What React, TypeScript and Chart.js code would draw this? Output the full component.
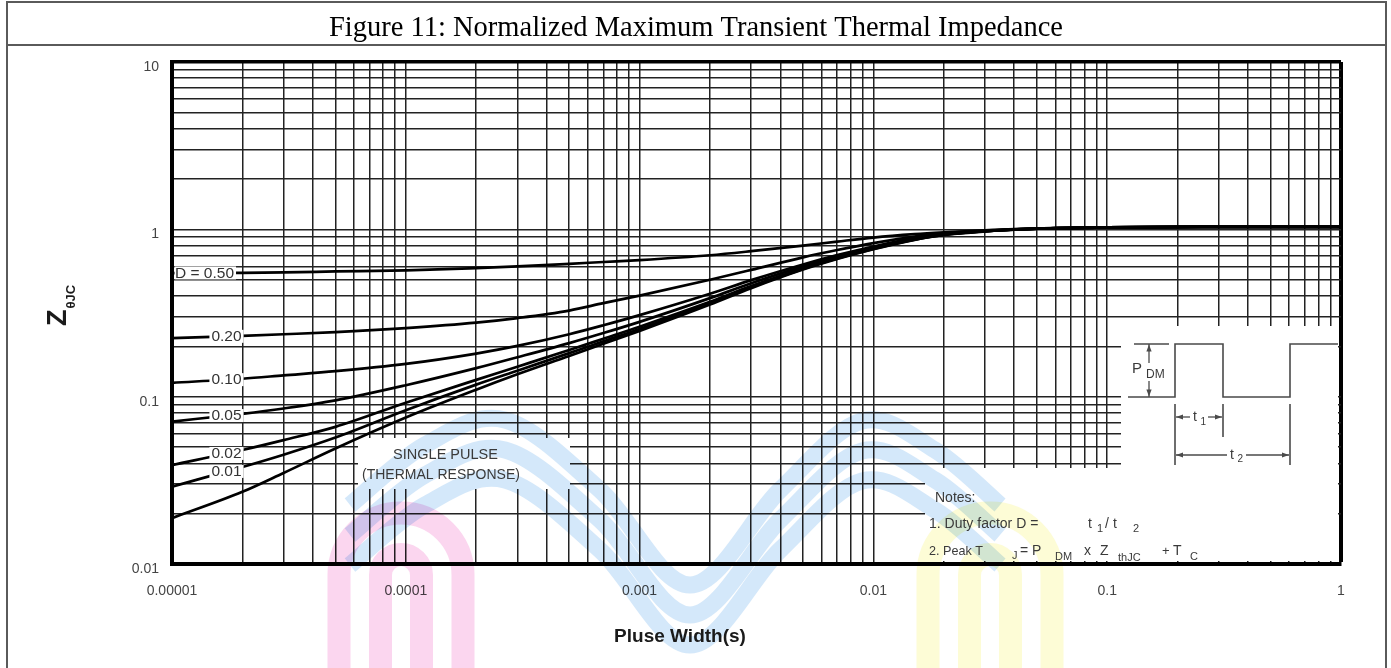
import { useEffect, useRef } from 'react';
import { Chart, registerables } from 'chart.js';

Chart.register(...registerables);

// Pulse width (s) sample points shared by every curve
const pulseWidths = [1e-5, 2e-5, 3e-5, 5e-5, 1e-4, 2e-4, 3e-4, 5e-4, 7e-4, 1e-3, 2e-3, 3e-3, 5e-3, 7e-3, 1e-2, 1.5e-2, 2e-2, 3e-2, 5e-2, 1e-1, 3e-1, 1];

// Normalized transient thermal impedance for each duty factor
const zDuty050 = [0.548, 0.55, 0.553, 0.56, 0.569, 0.587, 0.6, 0.622, 0.638, 0.655, 0.7, 0.74, 0.8, 0.845, 0.893, 0.935, 0.958, 0.985, 1.012, 1.028, 1.035, 1.035];
const zDuty020 = [0.224, 0.231, 0.236, 0.243, 0.257, 0.277, 0.295, 0.327, 0.362, 0.402, 0.5, 0.572, 0.68, 0.752, 0.828, 0.905, 0.948, 0.981, 1.011, 1.028, 1.035, 1.035];
const zDuty010 = [0.121, 0.128, 0.134, 0.142, 0.157, 0.181, 0.201, 0.236, 0.267, 0.307, 0.412, 0.497, 0.617, 0.701, 0.79, 0.886, 0.939, 0.978, 1.01, 1.028, 1.035, 1.035];
const zDuty005 = [0.071, 0.079, 0.085, 0.095, 0.117, 0.148, 0.172, 0.209, 0.24, 0.28, 0.388, 0.476, 0.601, 0.687, 0.779, 0.878, 0.934, 0.976, 1.009, 1.028, 1.035, 1.035];
const zDuty002 = [0.039, 0.048, 0.055, 0.066, 0.092, 0.126, 0.151, 0.19, 0.222, 0.262, 0.369, 0.458, 0.586, 0.674, 0.769, 0.871, 0.929, 0.974, 1.009, 1.028, 1.035, 1.035];
const zDuty001 = [0.029, 0.038, 0.045, 0.057, 0.083, 0.118, 0.143, 0.182, 0.214, 0.254, 0.362, 0.451, 0.58, 0.669, 0.764, 0.868, 0.927, 0.973, 1.008, 1.028, 1.035, 1.035];
const zSinglePulse = [0.0188, 0.027, 0.035, 0.049, 0.075, 0.11, 0.136, 0.175, 0.207, 0.247, 0.355, 0.445, 0.575, 0.665, 0.76, 0.865, 0.925, 0.972, 1.008, 1.028, 1.035, 1.035];

const seriesValues = [zDuty050, zDuty020, zDuty010, zDuty005, zDuty002, zDuty001, zSinglePulse];
const seriesNames = ['D = 0.50', '0.20', '0.10', '0.05', '0.02', '0.01', 'SINGLE PULSE'];

const xTickValues = [1e-5, 1e-4, 1e-3, 1e-2, 1e-1, 1];
const xTickLabels = ['0.00001', '0.0001', '0.001', '0.01', '0.1', '1'];
const yTickValues = [0.01, 0.1, 1, 10];
const yTickLabels = ['0.01', '0.1', '1', '10'];
const minorMultipliers = [1, 2, 3, 4, 5, 6, 7, 8, 9];

const figureTitle = 'Figure 11: Normalized Maximum Transient Thermal Impedance';
const xAxisTitle = 'Pluse Width(s)';
const singlePulseText = ['SINGLE PULSE', '(THERMAL RESPONSE)'];

const SANS = '"Liberation Sans", Arial, Helvetica, sans-serif';
const SERIF = '"Liberation Serif", "Times New Roman", serif';

// Every 1..9 step of each decade, ending on the last decade value
function logGridValues(decades: number[]): number[] {
  const out: number[] = [];
  decades.forEach((d, i) => {
    if (i === decades.length - 1) {
      out.push(d);
      return;
    }
    minorMultipliers.forEach((m) => out.push(Number((m * d).toPrecision(6))));
  });
  return out;
}

function decadeLabel(v: number, values: number[], labels: string[]): string {
  const i = values.findIndex((d) => Math.abs(Math.log10(v) - Math.log10(d)) < 1e-6);
  return i >= 0 ? labels[i] : '';
}

function sameValue(a: number, b: number) {
  return Math.abs(Math.log10(a) - Math.log10(b)) < 1e-6;
}

// Pixel y of a drawn curve at a pixel x (linear between its points)
function curveYAt(chart: any, di: number, px: number): number {
  const pts = chart.getDatasetMeta(di).data as any[];
  for (let i = 0; i < pts.length - 1; i++) {
    const a = pts[i];
    const b = pts[i + 1];
    if (px >= a.x && px <= b.x) {
      const t = (px - a.x) / (b.x - a.x);
      return a.y + t * (b.y - a.y);
    }
  }
  return pts[0].y;
}

function smoothPath(ctx: CanvasRenderingContext2D, pts: number[][]) {
  ctx.moveTo(pts[0][0], pts[0][1]);
  for (let i = 0; i < pts.length - 1; i++) {
    const p0 = pts[i - 1] || pts[i];
    const p1 = pts[i];
    const p2 = pts[i + 1];
    const p3 = pts[i + 2] || p2;
    ctx.bezierCurveTo(
      p1[0] + (p2[0] - p0[0]) / 6, p1[1] + (p2[1] - p0[1]) / 6,
      p2[0] - (p3[0] - p1[0]) / 6, p2[1] - (p3[1] - p1[1]) / 6,
      p2[0], p2[1]
    );
  }
}

function arrowHead(ctx: CanvasRenderingContext2D, x: number, y: number, dir: string) {
  const L = 7;
  const H = 2.6;
  ctx.beginPath();
  ctx.moveTo(x, y);
  if (dir === 'left') { ctx.lineTo(x + L, y - H); ctx.lineTo(x + L, y + H); }
  if (dir === 'right') { ctx.lineTo(x - L, y - H); ctx.lineTo(x - L, y + H); }
  if (dir === 'up') { ctx.lineTo(x - H, y + L); ctx.lineTo(x + H, y + L); }
  if (dir === 'down') { ctx.lineTo(x - H, y - L); ctx.lineTo(x + H, y - L); }
  ctx.closePath();
  ctx.fill();
}

function polyline(ctx: CanvasRenderingContext2D, pts: number[][]) {
  ctx.beginPath();
  ctx.moveTo(pts[0][0], pts[0][1]);
  for (let i = 1; i < pts.length; i++) ctx.lineTo(pts[i][0], pts[i][1]);
  ctx.stroke();
}

function text(ctx: CanvasRenderingContext2D, s: string, x: number, y: number, size: number, maxW?: number) {
  ctx.font = `${size}px ${SANS}`;
  if (maxW) ctx.fillText(s, x, y, maxW);
  else ctx.fillText(s, x, y);
}

const chartDecor = {
  id: 'chartDecor',
  beforeDraw(chart: any) {
    const { ctx, width, height } = chart;
    ctx.save();
    ctx.fillStyle = '#fff';
    ctx.fillRect(0, 0, width, height);
    // figure frame with its caption row
    ctx.strokeStyle = '#5a5a5a';
    ctx.lineWidth = 2;
    ctx.strokeRect(7, 2, 1379, height + 20);
    ctx.beginPath();
    ctx.moveTo(7, 45);
    ctx.lineTo(1386, 45);
    ctx.stroke();
    ctx.fillStyle = '#000';
    ctx.font = `28.5px ${SERIF}`;
    ctx.textAlign = 'center';
    ctx.textBaseline = 'alphabetic';
    ctx.fillText(figureTitle, 696, 36);
    ctx.restore();
  },
  beforeDatasetsDraw(chart: any) {
    const { ctx } = chart;
    ctx.save();
    // open areas inside the grid for the annotations
    ctx.fillStyle = '#fff';
    ctx.fillRect(358, 438, 212, 51);
    ctx.fillRect(1121, 326, 217, 235);
    ctx.fillRect(925, 468, 196, 93);

    // faint logo mark behind the plot
    ctx.globalCompositeOperation = 'multiply';
    ctx.lineCap = 'butt';
    ctx.lineJoin = 'round';
    ctx.strokeStyle = 'rgb(251, 214, 239)';
    ctx.lineWidth = 23;
    ctx.beginPath();
    ctx.moveTo(339, 690); ctx.lineTo(339, 575); ctx.arc(401, 575, 62, Math.PI, 0); ctx.lineTo(463, 690);
    ctx.stroke();
    ctx.beginPath();
    ctx.moveTo(380.5, 690); ctx.lineTo(380.5, 575); ctx.arc(401, 575, 20.5, Math.PI, 0); ctx.lineTo(421.5, 690);
    ctx.stroke();

    ctx.strokeStyle = 'rgb(253, 252, 214)';
    ctx.beginPath();
    ctx.moveTo(928, 690); ctx.lineTo(928, 575); ctx.arc(990, 575, 62, Math.PI, 0); ctx.lineTo(1052, 690);
    ctx.stroke();
    ctx.beginPath();
    ctx.moveTo(969.5, 690); ctx.lineTo(969.5, 575); ctx.arc(990, 575, 20.5, Math.PI, 0); ctx.lineTo(1010.5, 690);
    ctx.stroke();

    ctx.strokeStyle = 'rgb(212, 232, 250)';
    ctx.lineWidth = 17;
    const wave = [[350, 505], [425, 445], [505, 420], [600, 490], [690, 585], [780, 490], [862, 421], [935, 450], [1000, 505]];
    [0, 30, 60].forEach((dy) => {
      ctx.beginPath();
      smoothPath(ctx, wave.map((p) => [p[0], p[1] + dy]));
      ctx.stroke();
    });
    ctx.restore();
  },
  afterDatasetsDraw(chart: any) {
    const { ctx } = chart;
    ctx.save();
    ctx.textBaseline = 'middle';

    // duty factor labels sitting on their curves
    ctx.font = `15.5px ${SANS}`;
    seriesNames.slice(0, 6).forEach((name, i) => {
      const w = ctx.measureText(name).width;
      const cx = i === 0 ? 175 + w / 2 : 226.5;
      const cy = curveYAt(chart, i, cx);
      ctx.fillStyle = '#fff';
      const left = Math.max(174.5, cx - w / 2 - 2);
      ctx.fillRect(left, cy - 6.5, cx + w / 2 + 2 - left, 13);
      ctx.fillStyle = '#333';
      ctx.textAlign = 'center';
      ctx.fillText(name, cx, cy + 0.5);
    });

    // single pulse caption
    ctx.fillStyle = '#3a3a3a';
    ctx.textAlign = 'center';
    text(ctx, singlePulseText[0], 445.5, 455, 14.5);
    text(ctx, singlePulseText[1], 441, 475, 14, 162);

    // pulse train inset
    ctx.strokeStyle = '#4a4a4a';
    ctx.fillStyle = '#4a4a4a';
    ctx.lineWidth = 1.6;
    polyline(ctx, [[1128, 397], [1175, 397], [1175, 344], [1223, 344], [1223, 397], [1290, 397], [1290, 344], [1338, 344]]);
    polyline(ctx, [[1134, 344], [1169, 344]]);
    ctx.lineWidth = 1.3;
    polyline(ctx, [[1149, 344], [1149, 363]]);
    polyline(ctx, [[1149, 381], [1149, 397]]);
    arrowHead(ctx, 1149, 344.5, 'up');
    arrowHead(ctx, 1149, 396.5, 'down');
    ctx.lineWidth = 1.6;
    polyline(ctx, [[1175, 404], [1175, 465]]);
    polyline(ctx, [[1223, 404], [1223, 437]]);
    polyline(ctx, [[1290, 404], [1290, 465]]);
    ctx.lineWidth = 1.3;
    polyline(ctx, [[1176, 417], [1190, 417]]);
    polyline(ctx, [[1208, 417], [1222, 417]]);
    arrowHead(ctx, 1176, 417, 'left');
    arrowHead(ctx, 1222, 417, 'right');
    polyline(ctx, [[1176, 455], [1227, 455]]);
    polyline(ctx, [[1246, 455], [1289, 455]]);
    arrowHead(ctx, 1176, 455, 'left');
    arrowHead(ctx, 1289, 455, 'right');
    ctx.fillStyle = '#3a3a3a';
    ctx.textAlign = 'left';
    text(ctx, 'P', 1132, 369, 15);
    text(ctx, 'DM', 1146, 375, 12);
    text(ctx, 't', 1193, 417, 14);
    text(ctx, '1', 1200.5, 422, 10);
    text(ctx, 't', 1230, 455, 14);
    text(ctx, '2', 1237.5, 459, 10);

    // notes
    ctx.textBaseline = 'alphabetic';
    text(ctx, 'Notes:', 935, 501.5, 14, 42);
    text(ctx, '1. Duty factor D =', 929, 528, 14, 116);
    text(ctx, 't', 1088, 528, 14);
    text(ctx, '1', 1097, 531.5, 11);
    text(ctx, '/', 1105, 528, 14);
    text(ctx, 't', 1113, 528, 14);
    text(ctx, '2', 1133, 532, 11);
    text(ctx, '2. Peak T', 929, 554.5, 13.5, 54);
    text(ctx, 'J', 1012, 559, 11);
    text(ctx, '= P', 1020, 554.5, 14, 22);
    text(ctx, 'DM', 1055, 560, 11, 20);
    text(ctx, 'x', 1084, 554.5, 14);
    text(ctx, 'Z', 1100, 554.5, 14);
    text(ctx, 'thJC', 1118, 561, 11, 27);
    text(ctx, '+', 1162, 554.5, 13);
    text(ctx, 'T', 1173, 554.5, 14);
    text(ctx, 'C', 1190, 560, 11);

    // axis titles
    ctx.fillStyle = '#1a1a1a';
    ctx.textAlign = 'center';
    ctx.textBaseline = 'middle';
    ctx.font = `bold 19px ${SANS}`;
    ctx.fillText(xAxisTitle, 680, 637);

    ctx.translate(66, 326);
    ctx.rotate(-Math.PI / 2);
    ctx.textAlign = 'left';
    ctx.textBaseline = 'alphabetic';
    ctx.font = `bold 27px ${SANS}`;
    ctx.fillText('Z', 0, 0);
    const zw = ctx.measureText('Z').width;
    ctx.font = `bold 13px ${SANS}`;
    ctx.fillText('\u03B8JC', zw + 1, 9);
    ctx.restore();
  },
};

export default function App() {
  const canvasRef = useRef<HTMLCanvasElement>(null);

  useEffect(() => {
    const canvas = canvasRef.current;
    if (!canvas) return;
    const xGrid = logGridValues(xTickValues);
    const yGrid = logGridValues(yTickValues);

    const chart = new Chart(canvas, {
      type: 'line',
      data: {
        datasets: seriesValues.map((vals, i) => ({
          label: seriesNames[i],
          data: vals.map((z, j) => ({ x: pulseWidths[j], y: z })),
          borderColor: '#000',
          borderWidth: 2.7,
          pointRadius: 0,
          fill: false,
          cubicInterpolationMode: 'monotone' as const,
        })),
      },
      options: {
        responsive: false,
        maintainAspectRatio: false,
        animation: false,
        devicePixelRatio: 1,
        events: [],
        layout: { padding: { left: 0, top: 62, right: 50, bottom: 0 } },
        plugins: { legend: { display: false }, tooltip: { enabled: false } },
        scales: {
          x: {
            type: 'logarithmic',
            min: 1e-5,
            max: 1,
            afterBuildTicks: (s: any) => { s.ticks = xGrid.map((v) => ({ value: v })); },
            afterFit: (s: any) => { s.height = 104; },
            ticks: {
              autoSkip: false,
              maxRotation: 0,
              minRotation: 0,
              padding: 19,
              color: '#444',
              font: { family: SANS, size: 14 },
              callback: (v: any) => decadeLabel(Number(v), xTickValues, xTickLabels),
            },
            grid: {
              drawTicks: false,
              color: (c: any) => (c.tick && sameValue(c.tick.value, 1) ? '#000' : '#222'),
              lineWidth: (c: any) => (c.tick && sameValue(c.tick.value, 1) ? 4 : 1.5),
            },
            border: { display: true, color: '#000', width: 4 },
          },
          y: {
            type: 'logarithmic',
            min: 0.01,
            max: 10,
            afterBuildTicks: (s: any) => { s.ticks = yGrid.map((v) => ({ value: v })); },
            afterFit: (s: any) => { s.width = 172; },
            ticks: {
              autoSkip: false,
              padding: 13,
              labelOffset: 5,
              color: '#444',
              font: { family: SANS, size: 14 },
              callback: (v: any) => decadeLabel(Number(v), yTickValues, yTickLabels),
            },
            grid: {
              drawTicks: false,
              color: (c: any) => (c.tick && sameValue(c.tick.value, 10) ? '#000' : '#222'),
              lineWidth: (c: any) => (c.tick && sameValue(c.tick.value, 10) ? 3.5 : 1.5),
            },
            border: { display: true, color: '#000', width: 4 },
          },
        },
      } as any,
      plugins: [chartDecor as any],
    });

    return () => chart.destroy();
  }, []);

  return (
    <div style={{ position: 'absolute', left: 0, top: 0, width: 1391, height: 668, overflow: 'hidden', background: '#fff' }}>
      <canvas ref={canvasRef} width={1391} height={668} style={{ display: 'block', width: 1391, height: 668 }} />
    </div>
  );
}
